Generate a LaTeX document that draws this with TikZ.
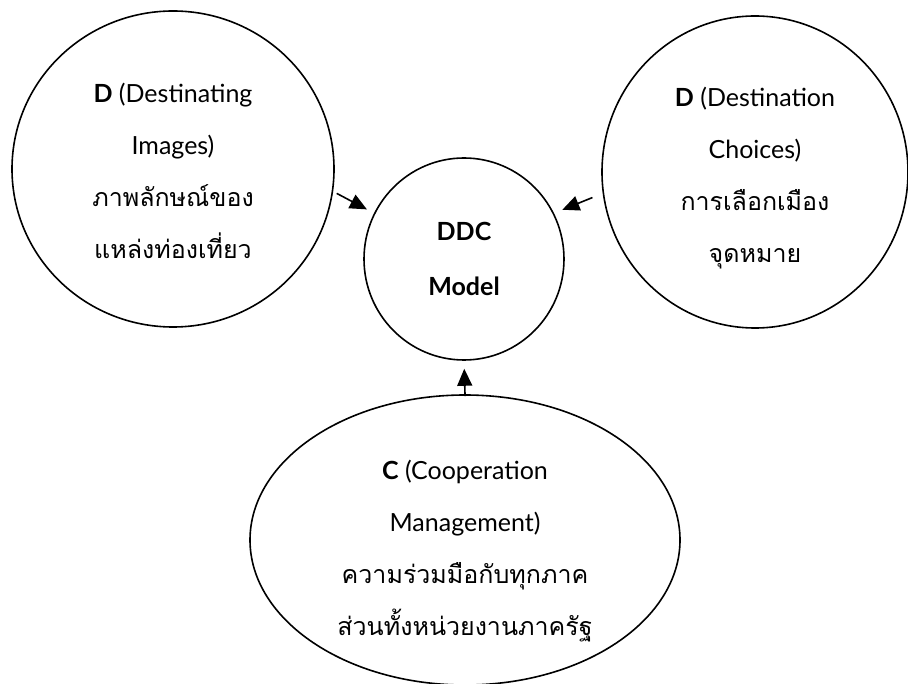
\documentclass[tikz,border=0pt]{standalone}
\usepackage{fontspec}
\setmainfont{Lato}
\newfontfamily\thaifont[Script=Thai]{Loma}
\usetikzlibrary{arrows.meta,positioning,shapes.geometric}

\begin{document}
\begin{tikzpicture}[
    x=1pt, y=-1pt,
    % --- Node styles ---
    bubble/.style={draw, ellipse, line width=1.6pt, inner sep=0pt},
    caption/.style={align=center, inner sep=0pt, font=\fontsize{25}{52}\selectfont},
    hub/.style={bubble, align=center, font=\bfseries\fontsize{25}{55}\selectfont},
    % --- Connector style ---
    flow/.style={draw, line width=1.6pt, -{Triangle[length=17pt, width=15pt]}},
]
\useasboundingbox (0,0) rectangle (908,684);

% === Centre ===
\node[hub, minimum width=200pt, minimum height=202pt] (ddc) at (464,259) {DDC\\Model};

% === Outer bubbles ===
\node[bubble, minimum width=322pt, minimum height=316pt] (imgs) at (173,169) {};
\node[bubble, minimum width=306pt, minimum height=312pt] (choice) at (755,172) {};
\node[bubble, minimum width=430pt, minimum height=290pt] (coop) at (465,540) {};

% === Texts in the bubbles ===
\node[caption] (imgsTxt) at ([yshift=-2pt]imgs)
  {\textbf{D} (Destinating\\Images)\\{\thaifont ภาพลักษณ์ของ}\\{\thaifont แหล่งท่องเที่ยว}};
\node[caption] (choiceTxt) at ([yshift=-6pt]choice)
  {\textbf{D} (Destination\\Choices)\\{\thaifont การเลือกเมือง}\\{\thaifont จุดหมาย}};
\node[caption] (coopTxt) at ([yshift=-11pt]coop)
  {\textbf{C} (Cooperation\\Management)\\{\thaifont ความร่วมมือกับทุกภาค}\\{\thaifont ส่วนทั้งหน่วยงานภาครัฐ}};

% === Arrows into the model ===
\draw[flow, shorten <=4pt, shorten >=8pt] (imgs.-8) -- (ddc.153);
\draw[flow, shorten <=11pt, shorten >=9pt] (choice.188) -- (ddc.27);
\draw[flow, shorten <=-2pt, shorten >=8pt] (coop.90) -- (ddc.-90);

\end{tikzpicture}
\end{document}
